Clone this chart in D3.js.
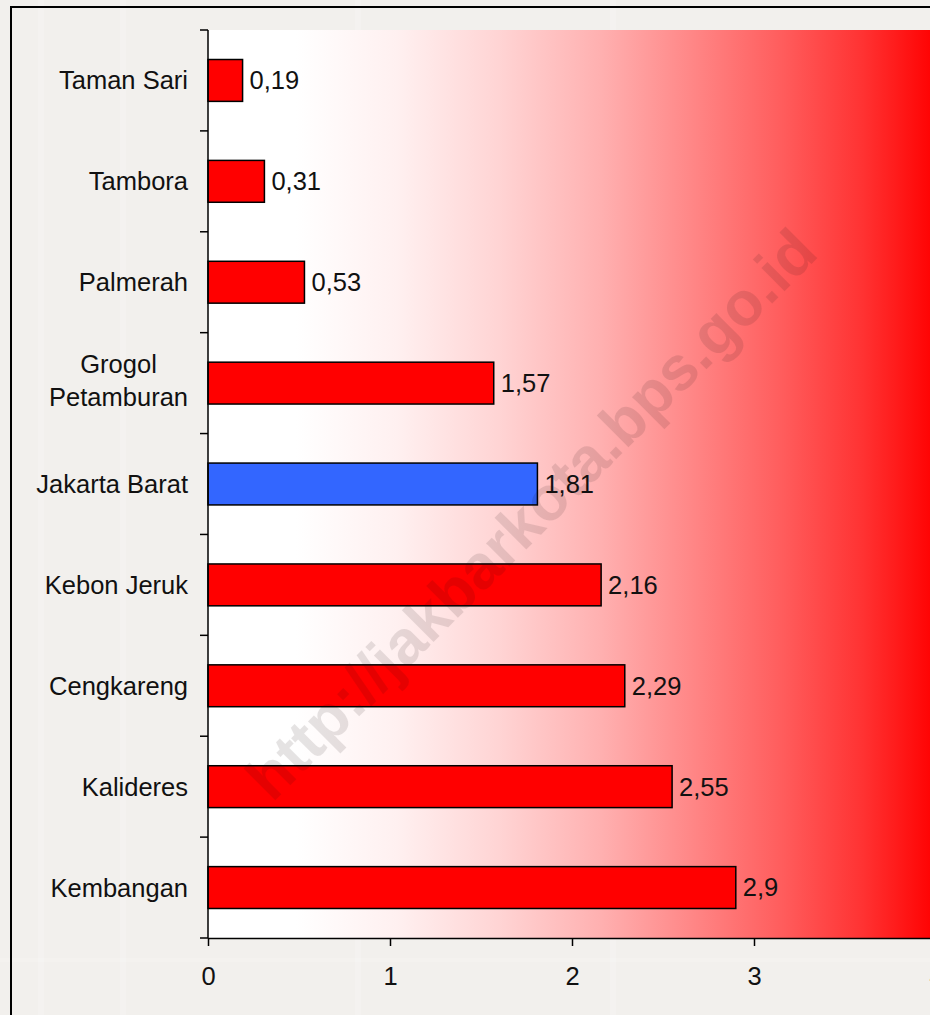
<!DOCTYPE html>
<html>
  <head>
    <meta charset="utf-8">
    <title>Jakarta Barat</title>
    <style type="text/css">
        body{
            margin: 0;
            background: #f2f0ed;
            font-family: "Liberation Sans", Arial, sans-serif;
        }
        .label{
            font-size: 25.5px;
            fill: #111;
        }
    </style>
  </head>
  <body>
    <div id="chart"></div>

    <script src="https://cdnjs.cloudflare.com/ajax/libs/d3/7.8.5/d3.min.js"></script>
    <script>
        var kecamatan = ["Taman Sari", "Tambora", "Palmerah", "Grogol Petamburan", "Jakarta Barat",
                         "Kebon Jeruk", "Cengkareng", "Kalideres", "Kembangan"];
        var nilai = [0.19, 0.31, 0.53, 1.57, 1.81, 2.16, 2.29, 2.55, 2.9];
        var nilaiLabel = ["0,19", "0,31", "0,53", "1,57", "1,81", "2,16", "2,29", "2,55", "2,9"];
        var xTicks = [0, 1, 2, 3, 4];
        var total = "Jakarta Barat";

        var width = 930, height = 1015;
        var plotLeft = 208, plotRight = 936, plotTop = 30, plotBottom = 938;

        var svg = d3.select("#chart").append("svg")
            .attr("width", width)
            .attr("height", height);

        //  background texture, a few faint light stripes
        svg.append("rect").attr("width", width).attr("height", height).attr("fill", "#f2f0ed");
        [38, 120, 355, 610].forEach(function (sx) {
            svg.append("rect").attr("x", sx).attr("y", 0).attr("width", 6).attr("height", height)
                .attr("fill", "#fff").attr("opacity", 0.18);
        });
        svg.append("rect").attr("x", 0).attr("y", 958).attr("width", width).attr("height", 4)
            .attr("fill", "#fff").attr("opacity", 0.15);

        //  outer frame, runs off the right and bottom edges
        svg.append("rect")
            .attr("x", 11).attr("y", 7)
            .attr("width", 1000).attr("height", 1100)
            .attr("fill", "none")
            .attr("stroke", "#000")
            .attr("stroke-width", 2);

        var x = d3.scaleLinear().domain([0, 4]).range([plotLeft, plotRight]);
        var y = d3.scaleBand().domain(kecamatan).range([plotTop, plotBottom])
            .paddingInner(0.585).paddingOuter(0.2925);

        //  plot area gradient white -> red
        var defs = svg.append("defs");
        var grad = defs.append("linearGradient").attr("id", "bg")
            .attr("x1", "0%").attr("x2", "100%").attr("y1", "0%").attr("y2", "0%");
        [[0, "#ffffff"], [0.12, "#ffffff"], [0.26, "#fff0f0"], [0.4, "#ffd4d4"],
         [0.54, "#ffb0b0"], [0.66, "#ff8888"], [0.79, "#ff5c5c"], [0.9, "#ff3232"],
         [1, "#ff0000"]].forEach(function (s) {
            grad.append("stop").attr("offset", s[0]).attr("stop-color", s[1]);
        });

        svg.append("rect")
            .attr("x", plotLeft).attr("y", plotTop)
            .attr("width", plotRight - plotLeft).attr("height", plotBottom - plotTop)
            .attr("fill", "url(#bg)");

        //  bars
        svg.append("g").selectAll("rect")
            .data(kecamatan)
            .enter().append("rect")
                .attr("x", x(0))
                .attr("y", d => y(d))
                .attr("width", (d, i) => x(nilai[i]) - x(0))
                .attr("height", y.bandwidth())
                .attr("fill", d => d === total ? "#3366ff" : "#ff0000")
                .attr("stroke", "#000")
                .attr("stroke-width", 1.5);

        //  value labels
        svg.append("g").selectAll("text")
            .data(kecamatan)
            .enter().append("text")
                .attr("class", "label")
                .attr("x", (d, i) => x(nilai[i]) + 7)
                .attr("y", d => y(d) + y.bandwidth() / 2)
                .attr("dy", "0.35em")
                .text((d, i) => nilaiLabel[i]);

        //  watermark
        svg.append("text")
            .attr("transform", "translate(531,514) rotate(-45)")
            .attr("text-anchor", "middle")
            .attr("dy", "0.35em")
            .attr("font-size", 62)
            .attr("font-weight", "bold")
            .attr("fill", "#201010")
            .attr("opacity", 0.11)
            .text("http://jakbarkota.bps.go.id");

        //  x axis
        var xAxis = svg.append("g")
            .attr("transform", "translate(0," + plotBottom + ")")
            .call(d3.axisBottom(x).tickValues(xTicks).tickSize(8).tickSizeOuter(0).tickPadding(21)
                .tickFormat(d3.format("d")));
        xAxis.selectAll("text").attr("class", "label");
        xAxis.attr("font-size", null).attr("font-family", null);
        xAxis.selectAll("line, path").attr("stroke", "#000").attr("stroke-width", 1.5);

        //  y axis, ticks sit between the categories
        var yAxis = svg.append("g").attr("transform", "translate(" + plotLeft + ",0)");
        yAxis.append("line")
            .attr("x1", 0).attr("x2", 0).attr("y1", plotTop).attr("y2", plotBottom)
            .attr("stroke", "#000").attr("stroke-width", 1.5);
        var step = y.step();
        yAxis.selectAll(".tick")
            .data(d3.range(kecamatan.length + 1))
            .enter().append("line")
                .attr("x1", -8).attr("x2", 0)
                .attr("y1", i => plotTop + i * step)
                .attr("y2", i => plotTop + i * step)
                .attr("stroke", "#000").attr("stroke-width", 1.5);

        //  category labels, long names wrap to two centred lines
        kecamatan.forEach(function (d) {
            var cy = y(d) + y.bandwidth() / 2;
            var lines = d === "Grogol Petamburan" ? ["Grogol", "Petamburan"] : [d];
            var t = svg.append("text").attr("class", "label").attr("text-anchor", "middle");
            lines.forEach(function (ln, j) {
                t.append("tspan")
                    .attr("x", 0)
                    .attr("y", lines.length === 1 ? cy + 9 : cy - 10.5 + j * 33)
                    .text(ln);
            });
            var w = 0;
            t.selectAll("tspan").each(function () { w = Math.max(w, this.getComputedTextLength()); });
            t.selectAll("tspan").attr("x", 188 - w / 2);
        });
    </script>
  </body>
</html>
